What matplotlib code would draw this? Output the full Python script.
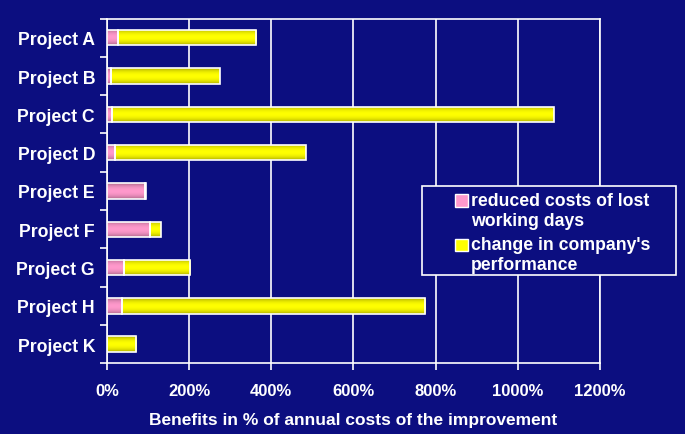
import matplotlib.pyplot as plt
from matplotlib.legend_handler import HandlerPatch
import numpy as np

# data (percent of annual costs)
projects = ["Project A", "Project B", "Project C", "Project D", "Project E",
            "Project F", "Project G", "Project H", "Project K"]
lost_days = [27, 10, 13, 20, 93, 105, 42, 37, 0]
performance = [337, 265, 1074, 464, 2, 26, 161, 738, 71]

x_ticks = [0, 200, 400, 600, 800, 1000, 1200]

BG = "#0c0e80"
PINK = np.array([255, 153, 204]) / 255
YELLOW = np.array([255, 255, 0]) / 255

plt.rcParams['font.family'] = ['Liberation Sans', 'DejaVu Sans']
plt.rcParams['font.weight'] = 'bold'


def shade(bars, base, ax):
    # vertical gradient: darker at top/bottom edges, bright in the middle
    t = np.linspace(0, 1, 40)
    f = 0.62 + 0.38 * np.sin(np.pi * t) ** 0.6
    grad = (base[None, :] * f[:, None])[:, None, :]
    for p in bars:
        b = p.get_bbox()
        if b.x1 - b.x0 <= 0:
            continue
        im = ax.imshow(grad, extent=[b.x0, b.x1, b.y0, b.y1], aspect='auto',
                       interpolation='bilinear', zorder=3)
        im.set_clip_path(p)


def top_square(legend, orig_handle, xdescent, ydescent, width, height, fontsize):
    # legend square next to the first line of a two-line label
    return plt.Rectangle((-xdescent, -ydescent + 0.58 * fontsize), width, height)


fig = plt.figure(figsize=(6.85, 4.35), dpi=100, facecolor=BG)
ax = fig.add_axes([0.156, 0.1625, 0.720, 0.7925], facecolor=BG)

y = np.arange(len(projects))
b1 = ax.barh(y, lost_days, height=0.4, color=PINK, edgecolor='white',
             linewidth=1.2, zorder=4, label="reduced costs of lost\nworking days")
b2 = ax.barh(y, performance, left=lost_days, height=0.4, color=YELLOW,
             edgecolor='white', linewidth=1.2, zorder=4,
             label="change in company's\nperformance")
for p in list(b1) + list(b2):
    p.set_facecolor('none')
shade(b1, PINK, ax)
shade(b2, YELLOW, ax)

ax.set_xlim(0, 1200)
ax.set_ylim(len(projects) - 0.5, -0.5)
ax.set_xticks(x_ticks)
ax.set_xticklabels([f"{v}%" for v in x_ticks])
ax.set_yticks(y)
ax.set_yticklabels(projects)
ax.set_yticks(np.arange(len(projects) + 1) - 0.5, minor=True)

ax.xaxis.grid(True, color='white', linewidth=1.2)
ax.set_axisbelow(True)
for s in ax.spines.values():
    s.set_color('white')
    s.set_linewidth(1.2)

ax.tick_params(axis='x', colors='white', labelsize=12, length=5,
               width=1.2, pad=9.5)
ax.tick_params(axis='y', which='major', length=0, colors='white',
               labelsize=12.7, pad=8.5)
ax.tick_params(axis='y', which='minor', length=5, width=1.2, color='white')

ax.set_xlabel("Benefits in % of annual costs of the improvement",
              color='white', fontsize=12.5, fontweight='bold', labelpad=9.5)

# legend box drawn as its own frame, entries placed inside it
box = plt.Rectangle((0.6156, 0.3655), 0.3713, 0.2039, transform=fig.transFigure,
                    facecolor=BG, edgecolor='white', linewidth=1.2, zorder=5)
fig.patches.append(box)

h1 = plt.Rectangle((0, 0), 1, 1, facecolor=PINK, edgecolor='white')
h2 = plt.Rectangle((0, 0), 1, 1, facecolor=YELLOW, edgecolor='white')
leg = fig.legend([h1, h2], [b1.get_label(), b2.get_label()],
                 loc='upper left', bbox_to_anchor=(0.664, 0.556),
                 frameon=False, labelcolor='white',
                 prop={'size': 12.7, 'weight': 'bold'},
                 handler_map={plt.Rectangle: HandlerPatch(patch_func=top_square)},
                 handlelength=0.72, handleheight=0.72, handletextpad=0.2,
                 borderpad=0, borderaxespad=0, labelspacing=0.42)
for t in leg.get_texts():
    t.set_linespacing(1.22)
leg.set_zorder(6)

fig.savefig("out.png", dpi=100, facecolor=BG)
